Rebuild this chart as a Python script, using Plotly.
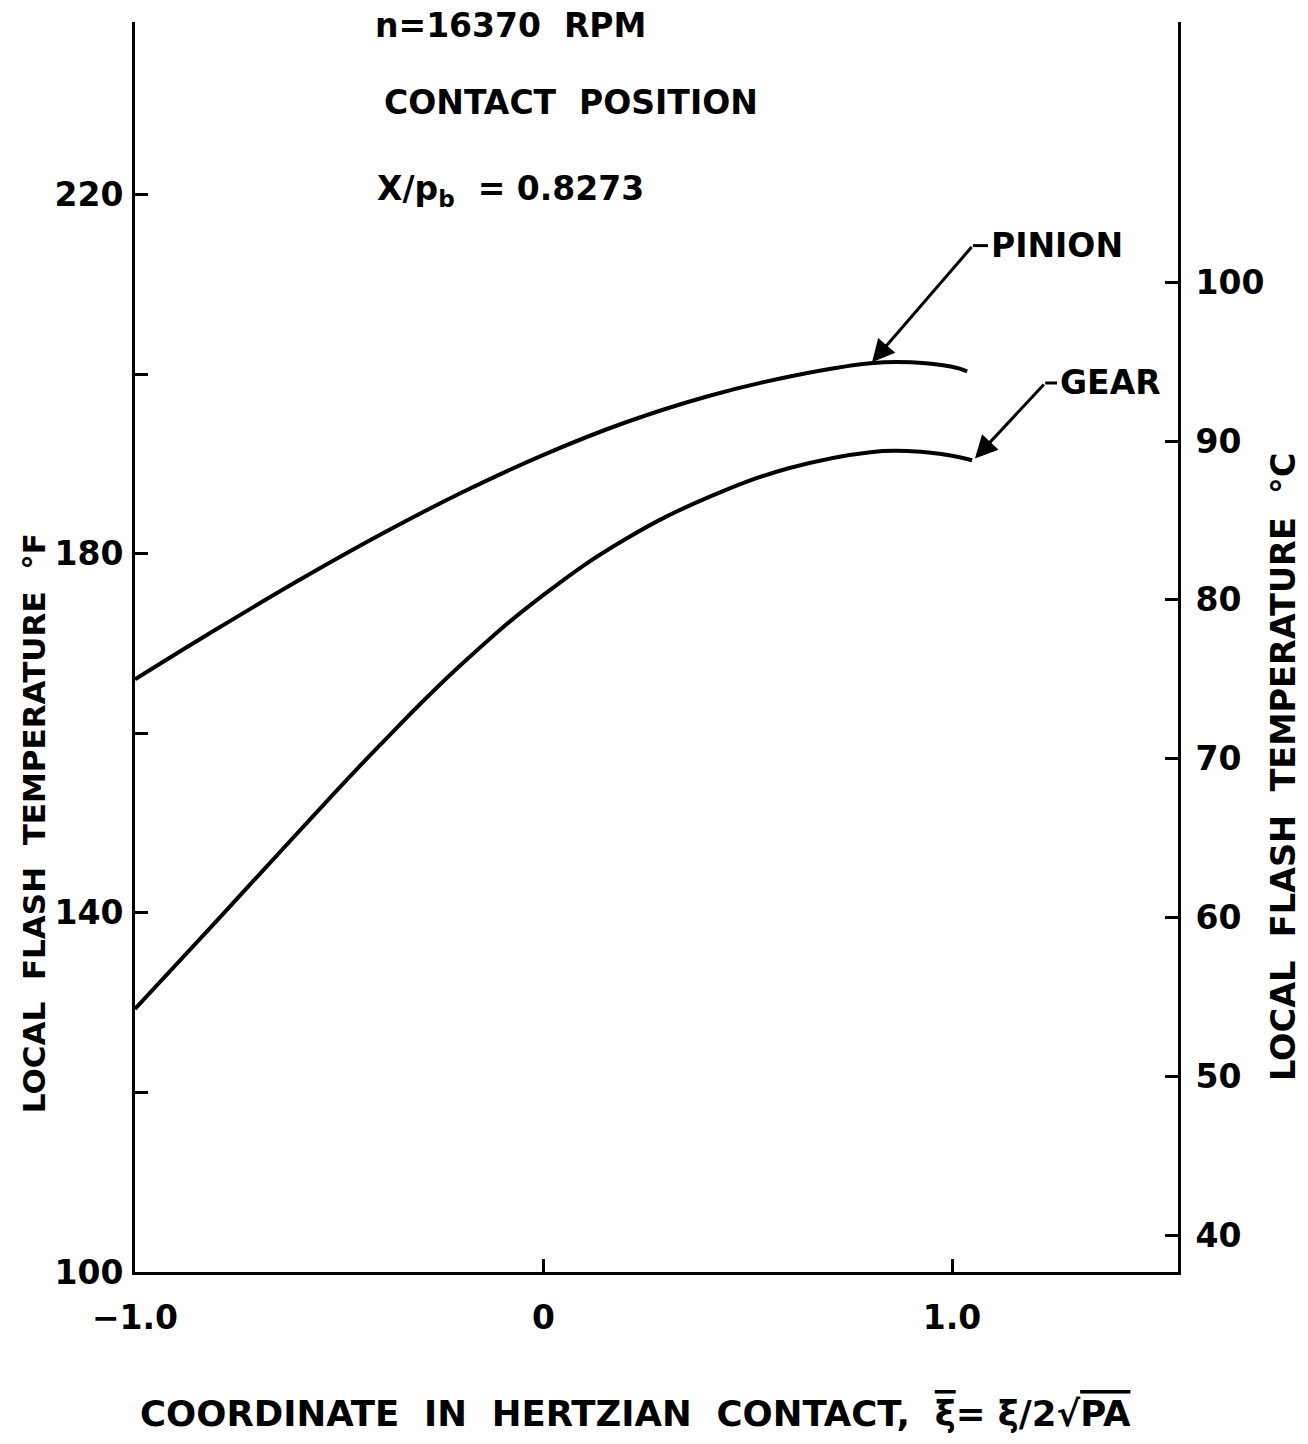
import plotly.graph_objects as go

# ---- data ----
xi_pinion = [-1.0, -0.8, -0.6, -0.4, -0.2, 0.0, 0.2, 0.4, 0.6, 0.8, 0.9, 1.0, 1.037]
t_pinion = [166.0, 171.6, 177.0, 182.1, 186.8, 191.0, 194.6, 197.5, 199.7, 201.2, 201.3, 200.8, 200.3]

xi_gear = [-1.0, -0.8, -0.6, -0.4, -0.2, 0.0, 0.2, 0.4, 0.6, 0.8, 0.9, 1.0, 1.049]
t_gear = [129.3, 139.1, 149.0, 158.7, 167.7, 175.4, 181.6, 186.2, 189.5, 191.3, 191.4, 190.9, 190.4]

x_tickvals = [-1.0, 0.0, 1.0]
x_ticktext = ["\u22121.0", "0", "1.0"]
yF_tickvals = [100, 120, 140, 160, 180, 200, 220]
yF_ticktext = ["100", "", "140", "", "180", "", "220"]
yC_tickvals = [40, 50, 60, 70, 80, 90, 100]
yC_ticktext = ["40", "50", "60", "70", "80", "90", "100"]

FONT = "DejaVu Sans, Liberation Sans, sans-serif"
BLACK = "black"

fig = go.Figure()
fig.add_trace(go.Scatter(x=xi_pinion, y=t_pinion, mode="lines", name="PINION",
                         line=dict(color=BLACK, width=4, shape="spline", smoothing=1.2),
                         showlegend=False, hoverinfo="skip"))
fig.add_trace(go.Scatter(x=xi_gear, y=t_gear, mode="lines", name="GEAR",
                         line=dict(color=BLACK, width=4, shape="spline", smoothing=1.2),
                         showlegend=False, hoverinfo="skip"))
# empty trace to register the right-hand (deg C) axis
fig.add_trace(go.Scatter(x=[None], y=[None], yaxis="y2", mode="lines",
                         showlegend=False, hoverinfo="skip"))

tickfont = dict(family=FONT, size=33, color=BLACK, weight="bold")

fig.update_layout(
    width=1308, height=1444,
    margin=dict(l=135, r=130, t=22, b=172),
    paper_bgcolor="white", plot_bgcolor="white",
    font=dict(family=FONT, color=BLACK),
    xaxis=dict(range=[-1.0, 1.553], showgrid=False, zeroline=False,
               showline=True, linewidth=3, linecolor=BLACK,
               ticks="inside", ticklen=13, tickwidth=3, tickcolor=BLACK,
               tickvals=x_tickvals, ticktext=x_ticktext, tickfont=tickfont,
               ticklabelstandoff=14),
    yaxis=dict(range=[100, 239.2], showgrid=False, zeroline=False,
               showline=True, linewidth=3, linecolor=BLACK,
               ticks="inside", ticklen=13, tickwidth=3, tickcolor=BLACK,
               tickvals=yF_tickvals, ticktext=yF_ticktext, tickfont=tickfont,
               ticklabelstandoff=2),
    yaxis2=dict(range=[37.67, 116.4], overlaying="y", side="right",
                showgrid=False, zeroline=False,
                showline=True, linewidth=3, linecolor=BLACK,
                ticks="inside", ticklen=13, tickwidth=3, tickcolor=BLACK,
                tickvals=yC_tickvals, ticktext=yC_ticktext, tickfont=tickfont,
                ticklabelstandoff=8),
)

txt = dict(family=FONT, size=33, color=BLACK, weight="bold")

annotations = [
    dict(x=-0.417, y=238.8, xref="x", yref="y", text="n=16370  RPM",
         showarrow=False, xanchor="left", yanchor="middle", font=txt),
    dict(x=-0.395, y=230.2, xref="x", yref="y", text="CONTACT  POSITION",
         showarrow=False, xanchor="left", yanchor="middle", font=txt),
    dict(x=-0.412, y=220.4, xref="x", yref="y", text="X/p<sub>b</sub>  = 0.8273",
         showarrow=False, xanchor="left", yanchor="middle", font=txt),
    # PINION label + leader
    dict(x=1.091, y=214.3, xref="x", yref="y", text="PINION",
         showarrow=False, xanchor="left", yanchor="middle", font=txt),
    dict(x=0.804, y=201.3, xref="x", yref="y", text="", showarrow=True,
         axref="x", ayref="y", ax=1.051, ay=214.3,
         arrowhead=2, arrowsize=1.5, arrowwidth=3, arrowcolor=BLACK, standoff=0),
    # GEAR label + leader
    dict(x=1.2595, y=199.0, xref="x", yref="y", text="GEAR",
         showarrow=False, xanchor="left", yanchor="middle", font=txt),
    dict(x=1.056, y=190.6, xref="x", yref="y", text="", showarrow=True,
         axref="x", ayref="y", ax=1.228, ay=199.0,
         arrowhead=2, arrowsize=1.5, arrowwidth=3, arrowcolor=BLACK, standoff=0),
    # axis titles
    dict(x=-0.0969, y=0.359, xref="paper", yref="paper",
         text="LOCAL  FLASH  TEMPERATURE  \u00b0F", textangle=-90,
         showarrow=False, xanchor="center", yanchor="middle",
         font=dict(family=FONT, size=31, color=BLACK, weight="bold")),
    dict(x=1.1007, y=0.404, xref="paper", yref="paper",
         text="LOCAL  FLASH  TEMPERATURE  \u00b0C", textangle=-90,
         showarrow=False, xanchor="center", yanchor="middle",
         font=dict(family=FONT, size=33.5, color=BLACK, weight="bold")),
    dict(x=0.4794, y=-0.1128, xref="paper", yref="paper",
         text=("COORDINATE  IN  HERTZIAN  CONTACT,  "
               "<span style='text-decoration:overline'>\u03be</span>= \u03be/2\u221a"
               "<span style='text-decoration:overline'>PA</span>"),
         showarrow=False, xanchor="center", yanchor="middle",
         font=dict(family=FONT, size=35.5, color=BLACK, weight="bold")),
]
fig.update_layout(annotations=annotations)

shapes = [
    dict(type="line", xref="x", yref="y", x0=1.051, y0=214.3, x1=1.088, y1=214.3,
         line=dict(color=BLACK, width=3)),
    dict(type="line", xref="x", yref="y", x0=1.228, y0=199.0, x1=1.257, y1=199.0,
         line=dict(color=BLACK, width=3)),
]
fig.update_layout(shapes=shapes)

fig.write_html("out.html", config={"displayModeBar": False},
               post_script="document.body.style.margin='0';")
